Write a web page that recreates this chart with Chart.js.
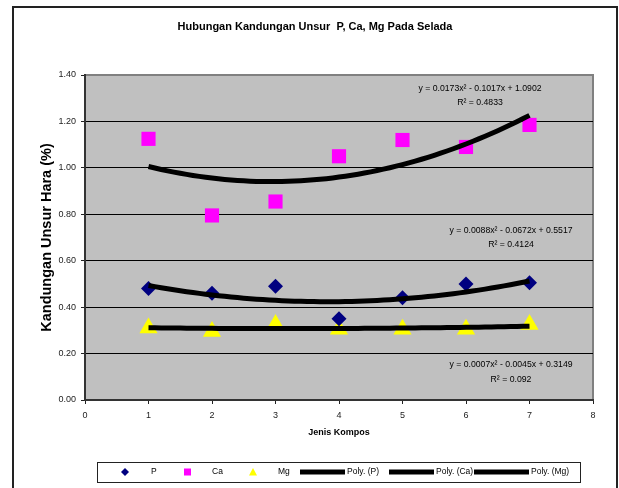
<!DOCTYPE html>
<html>
<head>
<meta charset="utf-8">
<script src="https://cdn.jsdelivr.net/npm/chart.js@4/dist/chart.umd.min.js"></script>
<style>
  html, body { margin: 0; padding: 0; background: #fff; }
  #wrap { width: 619px; height: 488px; }
</style>
</head>
<body>
<div id="wrap"><canvas id="chart" width="619" height="488"></canvas></div>
<script>
// data
const kompos = [1, 2, 3, 4, 5, 6, 7];
const nilaiP = [0.48, 0.46, 0.49, 0.35, 0.44, 0.50, 0.505];
const nilaiCa = [1.125, 0.795, 0.855, 1.05, 1.12, 1.09, 1.185];
const nilaiMg = [0.31, 0.295, 0.325, 0.305, 0.305, 0.305, 0.325];

// trend line coefficients as printed on the chart (a, b, c for ax^2 + bx + c)
const koefP = [0.0088, -0.0672, 0.5517];
const koefCa = [0.0173, -0.1017, 1.0902];
const koefMg = [0.0007, -0.0045, 0.3149];
const labelEq = [
    ["y = 0.0173x² - 0.1017x + 1.0902", "R² = 0.4833"],
    ["y = 0.0088x² - 0.0672x + 0.5517", "R² = 0.4124"],
    ["y = 0.0007x² - 0.0045x + 0.3149", "R² = 0.092"]
];
const yTicks = [0, 0.2, 0.4, 0.6, 0.8, 1.0, 1.2, 1.4];

const FONT = "'Liberation Sans', Arial, sans-serif";

function toPoints(xs, ys) {
    return xs.map((x, i) => ({ x: x, y: ys[i] }));
}

function trend(k) {
    const pts = [];
    for (let i = 0; i <= 60; i++) {
        const x = 1 + i * 0.1;
        pts.push({ x: x, y: k[0] * x * x + k[1] * x + k[2] });
    }
    return pts;
}

const framePlugin = {
    id: 'frame',
    beforeDraw(chart) {
        const ctx = chart.ctx;
        const a = chart.chartArea;
        ctx.save();
        ctx.fillStyle = '#fff';
        ctx.fillRect(0, 0, chart.width, chart.height);
        // outer border
        ctx.strokeStyle = '#222';
        ctx.lineWidth = 2;
        ctx.strokeRect(13, 7, 604, 490);
        // plot area
        ctx.fillStyle = '#c0c0c0';
        ctx.fillRect(a.left, a.top, a.right - a.left, a.bottom - a.top);
        ctx.strokeStyle = '#808080';
        ctx.lineWidth = 2;
        ctx.strokeRect(a.left, a.top, a.right - a.left, a.bottom - a.top);
        // title
        ctx.fillStyle = '#000';
        ctx.font = 'bold 11px ' + FONT;
        ctx.textAlign = 'center';
        ctx.textBaseline = 'middle';
        ctx.fillText('Hubungan Kandungan Unsur  P, Ca, Mg Pada Selada', 315, 27);
        ctx.restore();
    },
    afterDraw(chart) {
        const ctx = chart.ctx;
        ctx.save();
        // equations
        ctx.fillStyle = '#000';
        ctx.font = '8.7px ' + FONT;
        ctx.textAlign = 'center';
        ctx.textBaseline = 'middle';
        const pos = [[480, 89, 103], [511, 231, 245], [511, 365, 380]];
        pos.forEach((p, i) => {
            ctx.fillText(labelEq[i][0], p[0], p[1]);
            ctx.fillText(labelEq[i][1], p[0], p[2]);
        });

        // legend
        ctx.fillStyle = '#fff';
        ctx.fillRect(97, 462, 483, 20);
        ctx.strokeStyle = '#222';
        ctx.lineWidth = 1;
        ctx.strokeRect(97.5, 462.5, 483, 20);
        const ly = 472;
        ctx.font = '8.5px ' + FONT;
        ctx.textAlign = 'left';
        ctx.fillStyle = '#000080';
        ctx.beginPath();
        ctx.moveTo(125, ly - 4); ctx.lineTo(129, ly); ctx.lineTo(125, ly + 4); ctx.lineTo(121, ly);
        ctx.closePath(); ctx.fill();
        ctx.fillStyle = '#000';
        ctx.fillText('P', 151, ly);
        ctx.fillStyle = '#ff00ff';
        ctx.fillRect(184, ly - 3.5, 7, 7);
        ctx.fillStyle = '#000';
        ctx.fillText('Ca', 212, ly);
        ctx.fillStyle = '#ffff00';
        ctx.beginPath();
        ctx.moveTo(253, ly - 4); ctx.lineTo(257, ly + 3.5); ctx.lineTo(249, ly + 3.5);
        ctx.closePath(); ctx.fill();
        ctx.fillStyle = '#000';
        ctx.fillText('Mg', 278, ly);
        const lines = [[300, 345, 'Poly. (P)'], [389, 434, 'Poly. (Ca)'], [474, 529, 'Poly. (Mg)']];
        lines.forEach(l => {
            ctx.fillRect(l[0], ly - 2.5, l[1] - l[0], 5);
            ctx.fillText(l[2], l[1] + 2, ly);
        });
        ctx.restore();
    }
};

const ctx = document.getElementById('chart').getContext('2d');
new Chart(ctx, {
    type: 'scatter',
    data: {
        datasets: [
            { label: 'Poly. (P)', type: 'line', data: trend(koefP), borderColor: '#000', borderWidth: 5, pointRadius: 0, fill: false, order: 0 },
            { label: 'Poly. (Ca)', type: 'line', data: trend(koefCa), borderColor: '#000', borderWidth: 5, pointRadius: 0, fill: false, order: 0 },
            { label: 'Poly. (Mg)', type: 'line', data: trend(koefMg), borderColor: '#000', borderWidth: 5, pointRadius: 0, fill: false, order: 0 },
            { label: 'P', data: toPoints(kompos, nilaiP), pointStyle: 'rectRot', pointRadius: 7.5, backgroundColor: '#000080', borderColor: '#000080', borderWidth: 0, order: 1 },
            { label: 'Ca', data: toPoints(kompos, nilaiCa), pointStyle: 'rect', pointRadius: 10, backgroundColor: '#ff00ff', borderColor: '#ff00ff', borderWidth: 0, order: 1 },
            { label: 'Mg', data: toPoints(kompos, nilaiMg), pointStyle: 'triangle', pointRadius: 10.5, backgroundColor: '#ffff00', borderColor: '#ffff00', borderWidth: 0, order: 1 }
        ]
    },
    options: {
        responsive: false,
        animation: false,
        events: [],
        layout: {
            padding: { left: 0, right: 26, top: 75, bottom: 0 }
        },
        plugins: {
            legend: { display: false },
            title: { display: false },
            tooltip: { enabled: false }
        },
        scales: {
            x: {
                type: 'linear',
                min: 0,
                max: 8,
                afterFit(scale) { scale.height = 88; },
                ticks: {
                    stepSize: 1,
                    color: '#222',
                    padding: 6,
                    font: { size: 9, family: FONT }
                },
                grid: {
                    drawOnChartArea: false,
                    drawTicks: true,
                    tickLength: 4,
                    color: '#222',
                    lineWidth: 1
                },
                border: { display: true, color: '#333', width: 2 },
                title: {
                    display: true,
                    text: 'Jenis Kompos',
                    color: '#000',
                    font: { size: 9, weight: 'bold', family: FONT },
                    padding: { top: 0, bottom: 50 }
                }
            },
            y: {
                min: 0,
                max: 1.4,
                afterFit(scale) { scale.width = 85; },
                afterBuildTicks(scale) {
                    scale.ticks = yTicks.map(v => ({ value: v }));
                },
                ticks: {
                    color: '#222',
                    padding: 5,
                    font: { size: 9, family: FONT },
                    callback: v => Number(v).toFixed(2)
                },
                grid: {
                    color: (c) => (c.tick && (c.tick.value === 0 || c.tick.value === 1.4)) ? 'rgba(0,0,0,0)' : '#000',
                    lineWidth: 1,
                    drawTicks: true,
                    tickLength: 4,
                    tickColor: '#222'
                },
                border: { display: true, color: '#333', width: 2 },
                title: {
                    display: true,
                    text: 'Kandungan Unsur Hara (%)',
                    color: '#000',
                    font: { size: 14.5, weight: 'bold', family: FONT },
                    padding: { top: 38, bottom: 0 }
                }
            }
        }
    },
    plugins: [framePlugin]
});
</script>
</body>
</html>
